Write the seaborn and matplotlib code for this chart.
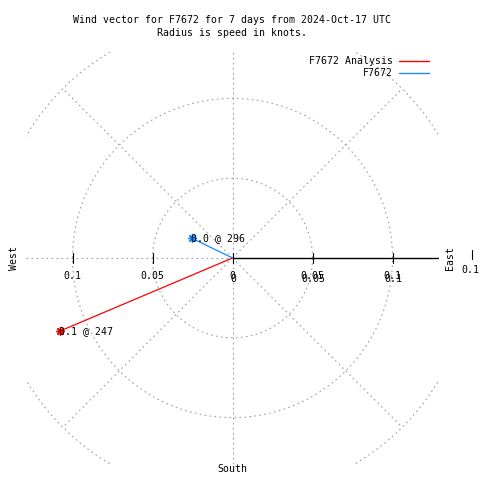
import numpy as np
import pandas as pd
import matplotlib
matplotlib.use("Agg")
import matplotlib.pyplot as plt
from matplotlib.lines import Line2D
import seaborn as sns

# --- DATA ---
series_names = ["F7672 Analysis", "F7672"]
speeds = [0.117, 0.028]          # knots (radius)
directions = [247, 296]          # degrees, clockwise from north
series_colors = ["#ff0000", "#1e88ff"]
ring_radii = [0.05, 0.1, 0.15]
tick_values = [-0.1, -0.05, 0, 0.05, 0.1]
tick_labels = ["0.1", "0.05", "0", "0.05", "0.1"]

sns.set_theme(style="white")
plt.rcParams["font.family"] = ["DejaVu Sans Mono"]
plt.rcParams["text.color"] = "black"
FS = 7.1

# --- VEKTORER ---
rows = []
for name, s, d in zip(series_names, speeds, directions):
    rad = np.deg2rad(d)
    rows.append({"serie": name, "x": 0.0, "y": 0.0})
    rows.append({"serie": name, "x": s * np.sin(rad), "y": s * np.cos(rad)})
df = pd.DataFrame(rows)
ends = df.iloc[1::2].reset_index(drop=True)

fig = plt.figure(figsize=(4.8, 4.8), dpi=100)
ax = fig.add_axes([26 / 480, 16 / 480, 413 / 480, 412 / 480])
lim = 206.5 / 1600
ax.set_xlim(-lim, lim)
ax.set_ylim(-lim, lim)
ax.axis("off")

grid_kw = dict(color="#a0a0a0", lw=0.8, ls=(0, (1.5, 3)), zorder=1)

# sirkler
t = np.linspace(0, 2 * np.pi, 400)
for r in ring_radii:
    ax.plot(r * np.cos(t), r * np.sin(t), **grid_kw)
# diagonaler
for a in [45, 135, 225, 315]:
    ra = np.deg2rad(a)
    ax.plot([0, 0.15 * np.cos(ra)], [0, 0.15 * np.sin(ra)], **grid_kw)
# akser
ax.plot([0, 0], [-lim, lim], **grid_kw)
ax.plot([-lim, 0], [0, 0], **grid_kw)
ax.plot([0, lim], [0, 0], color="black", lw=1.0, zorder=2)

# tick-merker
tk = 5 / 1600
for v in tick_values:
    ax.plot([v, v], [-tk, tk], color="black", lw=0.8, zorder=2)
for v, lab in zip(tick_values, tick_labels):
    ax.text(v, -18 / 1600, lab, ha="center", va="center", fontsize=FS)
    if v >= 0:
        ax.text(v + 1 / 1600, -21 / 1600, lab, ha="center", va="center", fontsize=FS)

# vektorlinjer og markører
sns.lineplot(data=df, x="x", y="y", hue="serie", palette=series_colors,
             hue_order=series_names, sort=False, estimator=None, lw=0.9,
             legend=False, ax=ax, zorder=3)
for i, row in ends.iterrows():
    ax.plot(row["x"], row["y"], marker=(8, 2, 0), ms=6, mew=1.0,
            color=series_colors[i], zorder=4, clip_on=False)
    lab = f"{speeds[i]:.1f} @ {directions[i]}"
    ax.text(row["x"] - 1 / 1600, row["y"], lab, ha="left", va="center", fontsize=FS, zorder=5)

# retningsetiketter
ax.text(-218 / 1600, 0, "West", rotation=90, ha="center", va="center", fontsize=FS, clip_on=False)
ax.text(217 / 1600, 0, "East", rotation=90, ha="center", va="center", fontsize=FS, clip_on=False)
ax.text(0, -212 / 1600, "South", ha="center", va="center", fontsize=FS, clip_on=False)
ax.text(238 / 1600, -12 / 1600, "0.1", ha="center", va="center", fontsize=FS, clip_on=False)
ax.plot([239 / 1600, 239 / 1600], [-1 / 1600, 8 / 1600], color="black", lw=0.8, clip_on=False)

# tittel
fig.text(232 / 480, 1 - 20 / 480, "Wind vector for F7672 for 7 days from 2024-Oct-17 UTC",
         ha="center", va="center", fontsize=FS)
fig.text(232 / 480, 1 - 33 / 480, "Radius is speed in knots.",
         ha="center", va="center", fontsize=FS)

# legend
handles = [Line2D([0], [0], color=c, lw=1.0) for c in series_colors]
fig.legend(handles, series_names, loc="upper right", bbox_to_anchor=(429 / 480, 1 - 56 / 480),
           bbox_transform=fig.transFigure, frameon=False, markerfirst=False,
           fontsize=FS, handlelength=3.0, handletextpad=0.7, labelspacing=0.25,
           borderpad=0, borderaxespad=0, labelcolor="black")

fig.savefig("out.png", dpi=100)
